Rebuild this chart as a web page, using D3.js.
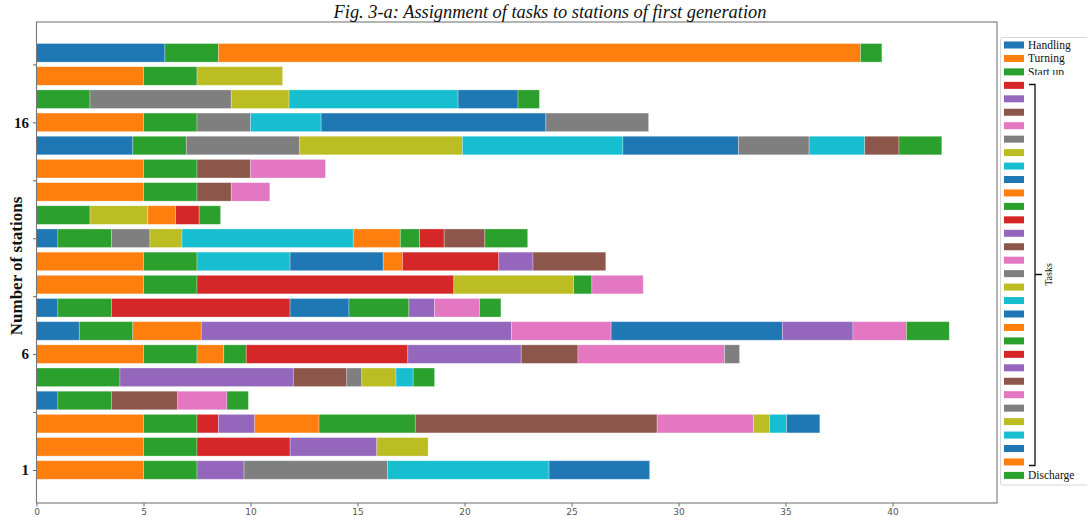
<!DOCTYPE html>
<html>
<head>
<meta charset="utf-8">
<script src="https://cdn.jsdelivr.net/npm/d3@7"></script>
<style>
  body { margin: 0; background: #fff; }
  svg { display: block; }
</style>
</head>
<body>
<svg id="chart" width="1087" height="517"></svg>
<script>
// ---- data -------------------------------------------------------------
// Series (tasks) in stacking order; only the first three and the last are named.
const taskNames = ["Handling", "Turning", "Start up"]
  .concat(d3.range(29).map(() => ""))
  .concat(["Discharge"]);

// Station rows, bottom to top.
const stations = d3.range(1, 20);

// Each row: [task index, duration] pairs, in stacking order.
const st1  = [[1, 5], [2, 2.5], [4, 2.2], [7, 6.7], [9, 7.55], [10, 4.7]];
const st2  = [[1, 5], [2, 2.5], [3, 4.35], [4, 4.05], [8, 2.4]];
const st3  = [[1, 5], [2, 2.5], [3, 1], [4, 1.7], [11, 3], [12, 4.5], [15, 11.3], [16, 4.5], [18, 0.75], [19, 0.8], [20, 1.55]];
const st4  = [[0, 1], [2, 2.5], [5, 3.1], [6, 2.3], [12, 1]];
const st5  = [[2, 3.9], [4, 8.1], [5, 2.5], [7, 0.7], [8, 1.6], [9, 0.8], [12, 1]];
const st6  = [[1, 5], [2, 2.5], [11, 1.25], [12, 1.05], [13, 7.55], [14, 5.3], [15, 2.65], [16, 6.85], [17, 0.7]];
const st7  = [[0, 2], [2, 2.5], [11, 3.2], [14, 14.5], [16, 4.65], [20, 8], [24, 3.3], [26, 2.5], [32, 2]];
const st8  = [[0, 1], [2, 2.5], [3, 8.35], [10, 2.75], [12, 2.8], [14, 1.2], [16, 2.1], [22, 1]];
const st9  = [[1, 5], [2, 2.5], [3, 12], [8, 5.6], [12, 0.85], [16, 2.4]];
const st10 = [[1, 5], [2, 2.5], [9, 4.35], [10, 4.35], [11, 0.9], [13, 4.5], [14, 1.6], [15, 3.4]];
const st11 = [[0, 1], [2, 2.5], [7, 1.8], [8, 1.5], [9, 8], [11, 2.2], [12, 0.9], [13, 1.15], [15, 1.9], [22, 2]];
const st12 = [[2, 2.5], [8, 2.7], [11, 1.3], [13, 1.1], [22, 1]];
const st13 = [[1, 5], [2, 2.5], [5, 1.6], [6, 1.8]];
const st14 = [[1, 5], [2, 2.5], [5, 2.5], [6, 3.5]];
const st15 = [[0, 4.5], [2, 2.5], [7, 5.3], [8, 7.6], [9, 7.5], [10, 5.4], [17, 3.3], [19, 2.6], [25, 1.6], [32, 2]];
const st16 = [[1, 5], [2, 2.5], [7, 2.5], [9, 3.3], [10, 10.5], [17, 4.8]];
const st17 = [[2, 2.5], [7, 6.6], [8, 2.7], [9, 7.9], [10, 2.8], [12, 1]];
const st18 = [[1, 5], [2, 2.5], [8, 4]];
const st19 = [[0, 6], [2, 2.5], [11, 30], [12, 1]];

const rowsData = [st1, st2, st3, st4, st5, st6, st7, st8, st9, st10,
                  st11, st12, st13, st14, st15, st16, st17, st18, st19];

const xTicks = [0, 5, 10, 15, 20, 25, 30, 35, 40];
const yTicks = [1, 3.5, 6, 8.5, 11, 13.5, 16, 18.5];
const yTickLabels = ["1", "", "6", "", "", "", "16", ""];

const titleText = "Fig. 3-a: Assignment of tasks to stations of first generation";
const yLabelText = "Number of stations";
const bracketText = "Tasks";

// ---- layout -----------------------------------------------------------
const svg = d3.select("#chart");
const plot = { left: 36.5, right: 997, top: 22, bottom: 503 };

const x = d3.scaleLinear().domain([0, 44.88]).range([plot.left, plot.right]);
const y = d3.scaleLinear().domain([-0.424, 20.33]).range([plot.bottom, plot.top]);
const barH = (y(0) - y(0.8));

const color = i => d3.schemeCategory10[i % 10];

// Build a wide table (one column per task) and stack it.
const keys = d3.range(taskNames.length);
const table = stations.map((s, i) => {
  const row = { station: s };
  keys.forEach(k => row[k] = 0);
  rowsData[i].forEach(([k, v]) => row[k] = v);
  return row;
});
const series = d3.stack().keys(keys)(table);

// ---- bars -------------------------------------------------------------
const barsG = svg.append("g");
series.forEach(s => {
  barsG.selectAll(null)
    .data(s.filter(d => d[1] - d[0] > 0))
    .join("rect")
    .attr("x", d => x(d[0]))
    .attr("width", d => x(d[1]) - x(d[0]))
    .attr("y", d => y(d.data.station) - barH / 2)
    .attr("height", barH)
    .attr("fill", color(s.key))
    .attr("stroke", "#ffffff")
    .attr("stroke-opacity", 0.35)
    .attr("stroke-width", 0.8);
});

// ---- axes -------------------------------------------------------------
const xAxis = svg.append("g")
  .attr("transform", `translate(0,${plot.bottom})`)
  .call(d3.axisBottom(x).tickValues(xTicks).tickSize(3.5).tickPadding(2).tickFormat(d3.format("d")));
xAxis.select(".domain").remove();
xAxis.selectAll(".tick line").attr("stroke", "#666");
xAxis.selectAll(".tick text")
  .attr("fill", "#555")
  .style("font-family", "'DejaVu Sans', sans-serif")
  .style("font-size", "9px");

const yAxis = svg.append("g")
  .attr("transform", `translate(${plot.left},0)`)
  .call(d3.axisLeft(y).tickValues(yTicks).tickSize(3.5).tickPadding(4)
    .tickFormat((d, i) => yTickLabels[i]));
yAxis.select(".domain").remove();
yAxis.selectAll(".tick line").attr("stroke", "#666");
yAxis.selectAll(".tick text")
  .attr("fill", "#111")
  .style("font-family", "'Liberation Serif', 'Times New Roman', serif")
  .style("font-weight", "bold")
  .style("font-size", "15px");

// Frame
svg.append("rect")
  .attr("x", plot.left).attr("y", plot.top)
  .attr("width", plot.right - plot.left).attr("height", plot.bottom - plot.top)
  .attr("fill", "none").attr("stroke", "#777").attr("stroke-width", 1.1);

// Title
svg.append("text")
  .attr("x", 550).attr("y", 18)
  .attr("text-anchor", "middle")
  .style("font-family", "'Liberation Serif', 'Times New Roman', serif")
  .style("font-style", "italic")
  .style("font-size", "18.4px")
  .attr("fill", "#111")
  .text(titleText);

// Y axis label
svg.append("text")
  .attr("transform", `translate(22,266) rotate(-90)`)
  .attr("text-anchor", "middle")
  .style("font-family", "'Liberation Serif', 'Times New Roman', serif")
  .style("font-weight", "bold")
  .style("font-size", "17px")
  .attr("fill", "#111")
  .text(yLabelText);

// ---- legend -----------------------------------------------------------
const legend = svg.append("g");
legend.append("rect")
  .attr("x", 1000.5).attr("y", 37.5)
  .attr("width", 120).attr("height", 447.5)
  .attr("rx", 2)
  .attr("fill", "#fff").attr("stroke", "#d6d6d6").attr("stroke-width", 1);

const ly = i => 45 + i * 13.45;
const items = legend.selectAll("g.item")
  .data(taskNames.map((name, i) => ({ name, i })))
  .join("g").attr("class", "item");
items.append("rect")
  .attr("x", 1004).attr("width", 20)
  .attr("y", d => ly(d.i) - 3.5).attr("height", 7)
  .attr("fill", d => color(d.i));
items.filter(d => d.name !== "").append("text")
  .attr("x", 1028)
  .attr("y", d => ly(d.i) + 4)
  .style("font-family", "'Liberation Serif', 'Times New Roman', serif")
  .style("font-size", "11.5px")
  .attr("fill", "#111")
  .text(d => d.name);

// Bracket grouping the unnamed task entries
const bTop = 84.5, bBot = 465.5, bX = 1035, bMid = 274.5;
svg.append("rect")
  .attr("x", 1026).attr("y", 75).attr("width", 61).attr("height", 8)
  .attr("fill", "#fff");
svg.append("path")
  .attr("d", `M${bX - 6},${bTop} H${bX} V${bBot} H${bX - 6} M${bX},${bMid} H${bX + 7}`)
  .attr("fill", "none").attr("stroke", "#111").attr("stroke-width", 1.3);
svg.append("text")
  .attr("transform", `translate(1052,${bMid}) rotate(-90)`)
  .attr("text-anchor", "middle")
  .style("font-family", "'Liberation Serif', 'Times New Roman', serif")
  .style("font-size", "10px")
  .attr("fill", "#111")
  .text(bracketText);
</script>
</body>
</html>
